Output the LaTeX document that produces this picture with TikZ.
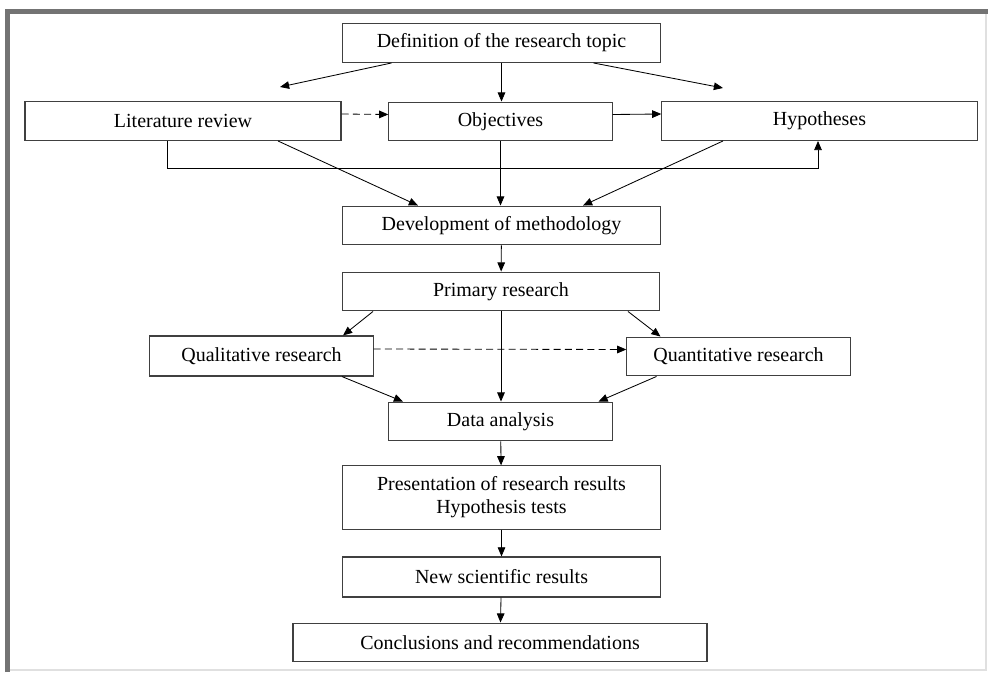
\documentclass[tikz,border=0pt]{standalone}
\usepackage{fontspec}
\setmainfont{Liberation Serif}
\usetikzlibrary{arrows.meta,calc}

\begin{document}
\begin{tikzpicture}[x=0.025cm,y=-0.025cm,>={Triangle[length=6.5pt,width=5.4pt]},every node/.style={font=\fontsize{14.2}{16.5}\selectfont},box/.style={draw=black!75,line width=0.8pt,inner sep=0pt,align=center,minimum height=0.97cm},wide/.style={box,minimum width=7.93cm},narrow/.style={box,minimum width=5.58cm},link/.style={->,line width=0.6pt},dlink/.style={link,dash pattern=on 5pt off 3pt}]
\useasboundingbox (0,0) rectangle (988,672);
% frame
\fill[white] (6,10) rectangle (988,672);
\draw[black!12,line width=1.2pt] (986,13)--(986,670)--(9,670);
\draw[black!55,line width=3.6pt] (7.5,672)--(7.5,11.5)--(988,11.5);
% boxes
\node[wide] (topic) at (501.5,43) {Definition of the research topic};
\node[wide,minimum width=7.9cm] (lit) at (183,121) {Literature review};
\node[narrow] (obj) at (500.5,121.5) {Objectives};
\node[wide,minimum width=7.88cm] (hyp) at (819.5,121) {Hypotheses};
\node[wide] (dev) at (501.5,225.5) {Development of methodology};
\node[wide] (prim) at (501,291.5) {Primary research};
\node[narrow,minimum height=1cm] (qual) at (261.5,356) {Qualitative research};
\node[narrow] (quant) at (738.5,356.5) {Quantitative research};
\node[narrow] (data) at (500.5,421.5) {Data analysis};
\node[wide,minimum height=1.58cm] (pres) at (501.5,497.5) {Presentation of research results\\Hypothesis tests};
\node[wide,minimum height=1cm] (news) at (501.5,577) {New scientific results};
\node[box,minimum width=10.35cm] (concl) at (500,642.5) {Conclusions and recommendations};
% free arrow ends
\coordinate (litin) at (280,87);\coordinate (hypin) at (723,88);
% connectors
\draw[link] ($(topic.south)+(-110,0)$)--(litin);\draw[link] ($(topic.south)+(92,0)$)--(hypin);\draw[link] (topic.south)--(topic.south|-obj.north);
\draw[dlink] ($(lit.east)+(0,-7)$)--($(obj.west)+(0,-7)$);\draw[link] ($(obj.east)+(0,-7)$)--($(hyp.west)+(0,-7)$);
\draw[link] ($(lit.south)+(-16,0)$)--++(0,27)-|($(hyp.south)+(-1.5,0)$);
\draw[link] ($(lit.south)+(95,0)$)--($(dev.north)+(-83.5,0)$);\draw[link] (obj.south)--(obj.south|-dev.north);\draw[link] ($(hyp.south)+(-96.5,0)$)--($(dev.north)+(81.5,0)$);
\draw[link] (dev)--(prim);
\draw[link] ($(prim.south)+(-128,0)$)--($(qual.north)+(81.5,0)$);\draw[link] ($(prim.south)+(127,0)$)--($(quant.north)+(-78,0)$);\draw[link] (prim.south)--(prim.south|-data.north);
\draw[dlink] ($(qual.east)+(0,-7)$)--($(quant.west)+(0,-7)$);
\draw[link] ($(qual.south)+(80.5,0)$)--($(data.north)+(-97.5,0)$);\draw[link] ($(quant.south)+(-82,0)$)--($(data.north)+(98,0)$);
\draw[link] (data)--(pres);\draw[link] (pres)--(news);\draw[link] (news)--(concl);
\end{tikzpicture}
\end{document}
